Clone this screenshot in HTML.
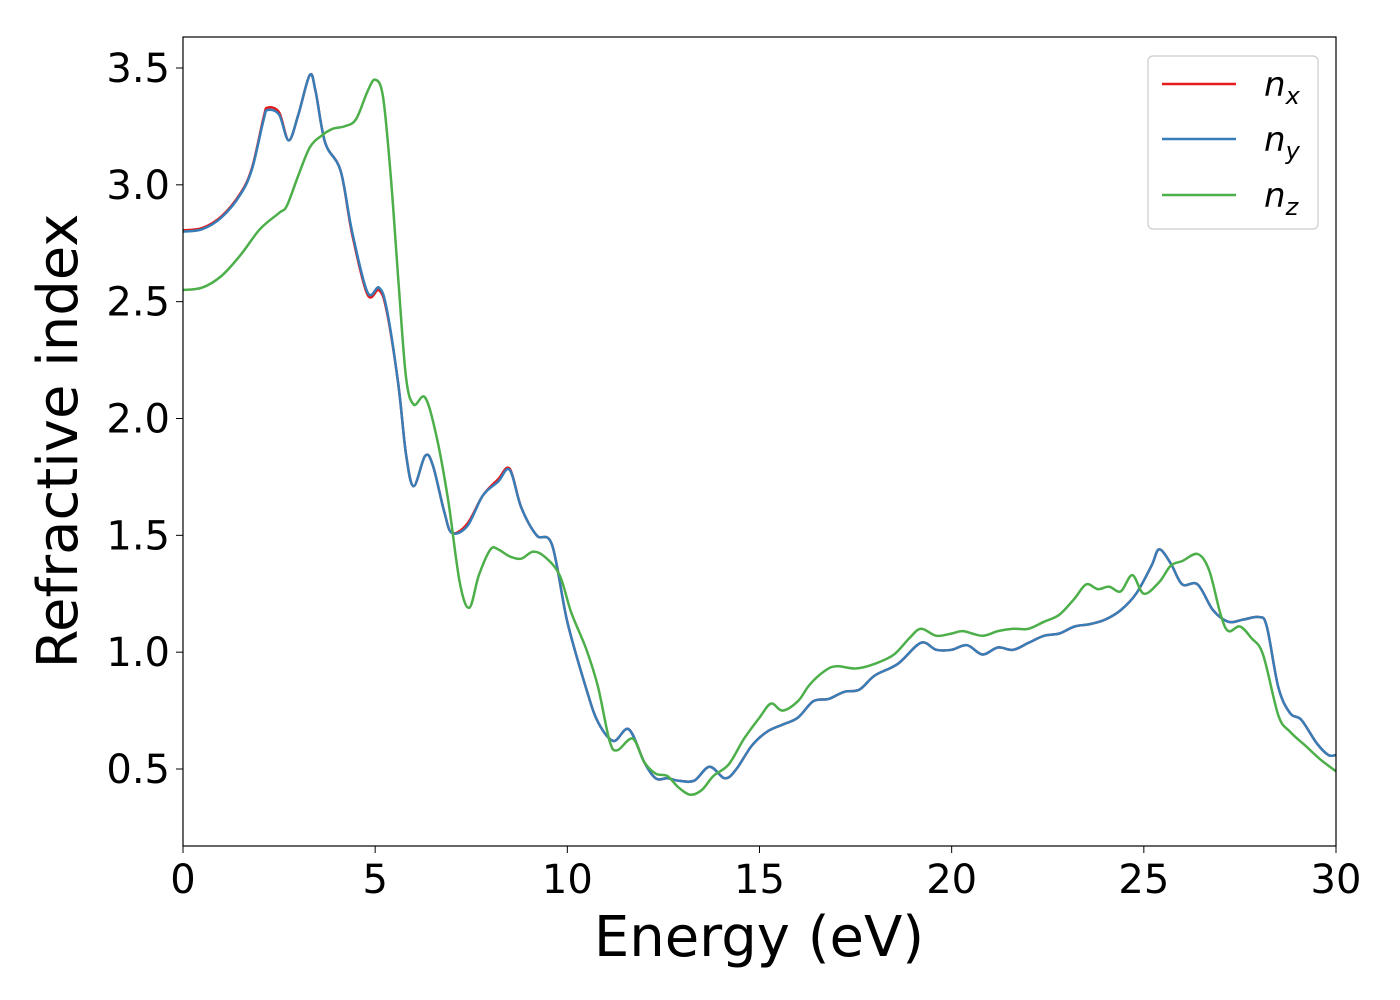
<!DOCTYPE html>
<html><head><meta charset="utf-8"><style>
body{margin:0;background:#fff;}
svg{display:block;font-family:"DejaVu Sans","Liberation Sans",sans-serif;}
</style></head><body>
<svg id="chart" width="1400" height="1000">
<rect x="0" y="0" width="1400" height="1000" fill="#fff"/>
<g id="plot"></g>
<rect x="183" y="37" width="1153" height="809" fill="none" stroke="#000" stroke-width="1.2"/>
<g id="axes"></g>
<text x="759" y="956" font-size="56" text-anchor="middle">Energy (eV)</text>
<text transform="translate(77,441) rotate(-90)" font-size="56" text-anchor="middle">Refractive index</text>
<g>
<rect x="1148" y="56" width="170" height="173" rx="5" fill="#fff" stroke="#ccc" stroke-width="1.2"/>
<line x1="1162" y1="84" x2="1236" y2="84" stroke="#e41a1c" stroke-width="2.5"/>
<text x="1264" y="96" font-size="34" font-style="italic">n<tspan font-size="24" dy="8">x</tspan></text>
<line x1="1162" y1="139" x2="1236" y2="139" stroke="#377eb8" stroke-width="2.5"/>
<text x="1264" y="151" font-size="34" font-style="italic">n<tspan font-size="24" dy="8">y</tspan></text>
<line x1="1162" y1="195" x2="1236" y2="195" stroke="#4daf4a" stroke-width="2.5"/>
<text x="1264" y="207" font-size="34" font-style="italic">n<tspan font-size="24" dy="8">z</tspan></text>
</g>
</svg>
<script>
const xTicks=[0,5,10,15,20,25,30];
const yTicks=[0.5,1.0,1.5,2.0,2.5,3.0,3.5];
const yTickLabels=["0.5","1.0","1.5","2.0","2.5","3.0","3.5"];
const energyY=[0,0.5,1,1.5,1.8,2.1,2.2,2.5,2.75,3.0,3.3,3.45,3.7,4.1,4.4,4.8,5.1,5.3,5.6,5.8,6.0,6.3,6.5,6.8,7.0,7.4,7.8,8.2,8.5,8.8,9.2,9.6,10.0,10.5,10.8,11.2,11.6,12.0,12.3,12.6,12.9,13.3,13.7,14.1,14.4,14.8,15.2,15.6,16.0,16.4,16.8,17.2,17.6,18.0,18.6,19.2,19.6,20.0,20.4,20.8,21.2,21.6,22.0,22.4,22.8,23.2,23.6,24.0,24.4,24.8,25.2,25.4,25.7,26.0,26.4,26.8,27.2,27.6,28.0,28.2,28.5,28.8,29.1,29.5,29.8,30];
const nyValues=[2.80,2.81,2.86,2.96,3.07,3.28,3.32,3.30,3.19,3.30,3.47,3.40,3.18,3.06,2.80,2.54,2.56,2.47,2.15,1.85,1.71,1.84,1.80,1.60,1.51,1.54,1.67,1.73,1.78,1.62,1.50,1.46,1.13,0.84,0.70,0.62,0.67,0.53,0.46,0.46,0.45,0.45,0.51,0.46,0.50,0.60,0.66,0.69,0.72,0.79,0.80,0.83,0.84,0.90,0.95,1.04,1.01,1.01,1.03,0.99,1.02,1.01,1.04,1.07,1.08,1.11,1.12,1.14,1.18,1.25,1.37,1.44,1.38,1.29,1.29,1.18,1.13,1.14,1.15,1.11,0.85,0.74,0.71,0.61,0.56,0.56];
const nxValues=[2.805,2.815,2.865,2.965,3.075,3.29,3.33,3.31,3.19,3.30,3.47,3.40,3.18,3.06,2.79,2.53,2.55,2.46,2.15,1.85,1.71,1.84,1.80,1.60,1.51,1.55,1.67,1.74,1.785,1.62,1.50,1.46,1.13,0.84,0.70,0.62,0.67,0.53,0.46,0.46,0.45,0.45,0.51,0.46,0.50,0.60,0.66,0.69,0.72,0.79,0.80,0.83,0.84,0.90,0.95,1.04,1.01,1.01,1.03,0.99,1.02,1.01,1.04,1.07,1.08,1.11,1.12,1.14,1.18,1.25,1.37,1.44,1.38,1.29,1.29,1.18,1.13,1.14,1.15,1.11,0.85,0.74,0.71,0.61,0.56,0.56];
const energyZ=[0,0.5,1.0,1.5,2.0,2.5,2.7,3.0,3.3,3.6,3.9,4.2,4.5,4.8,5.0,5.2,5.4,5.6,5.8,6.0,6.3,6.6,6.9,7.2,7.45,7.7,8.0,8.2,8.5,8.8,9.1,9.4,9.8,10.1,10.5,10.8,11.1,11.3,11.7,12.0,12.3,12.6,12.9,13.2,13.5,13.8,14.2,14.6,15.0,15.3,15.6,16.0,16.3,16.7,17.0,17.5,18.0,18.5,18.9,19.2,19.6,20.0,20.3,20.8,21.2,21.6,22.0,22.4,22.8,23.2,23.5,23.8,24.1,24.4,24.7,25.0,25.4,25.7,26.0,26.4,26.7,27.0,27.2,27.5,27.8,28.1,28.5,28.8,29.2,29.6,30];
const nzValues=[2.55,2.56,2.61,2.70,2.81,2.88,2.91,3.04,3.16,3.21,3.24,3.25,3.28,3.40,3.45,3.38,3.05,2.60,2.18,2.06,2.09,1.92,1.65,1.30,1.19,1.33,1.44,1.44,1.41,1.40,1.43,1.41,1.33,1.17,1.01,0.85,0.62,0.58,0.63,0.53,0.48,0.47,0.42,0.39,0.41,0.47,0.52,0.63,0.72,0.78,0.75,0.79,0.86,0.92,0.94,0.93,0.95,0.99,1.06,1.10,1.07,1.08,1.09,1.07,1.09,1.10,1.10,1.13,1.16,1.23,1.29,1.27,1.28,1.26,1.33,1.25,1.30,1.37,1.39,1.42,1.35,1.16,1.09,1.11,1.06,0.99,0.73,0.66,0.60,0.54,0.49];

const NS="http://www.w3.org/2000/svg";
function xs(v){return 183+v*(1153/30);}
function ys(v){return 769-(v-0.5)*233.67;}
function path(xa,ya){
  const p=xa.map((x,i)=>[xs(x),ys(ya[i])]);
  let d="M"+p[0][0].toFixed(1)+","+p[0][1].toFixed(1);
  for(let i=0;i<p.length-1;i++){
    const p0=p[Math.max(i-1,0)],p1=p[i],p2=p[i+1],p3=p[Math.min(i+2,p.length-1)];
    const c1=[p1[0]+(p2[0]-p0[0])/6,p1[1]+(p2[1]-p0[1])/6];
    const c2=[p2[0]-(p3[0]-p1[0])/6,p2[1]-(p3[1]-p1[1])/6];
    d+="C"+c1[0].toFixed(1)+","+c1[1].toFixed(1)+" "+c2[0].toFixed(1)+","+c2[1].toFixed(1)+" "+p2[0].toFixed(1)+","+p2[1].toFixed(1);
  }
  return d;
}
const plot=document.getElementById("plot");
function addLine(xa,ya,color,name){
  const el=document.createElementNS(NS,"path");
  el.setAttribute("d",path(xa,ya));
  el.setAttribute("fill","none");
  el.setAttribute("stroke",color);
  el.setAttribute("stroke-width","2.5");
  
  
  plot.appendChild(el);
}
addLine(energyY,nxValues,"#e41a1c","series-nx");
addLine(energyY,nyValues,"#377eb8","series-ny");
addLine(energyZ,nzValues,"#4daf4a","series-nz");

const axes=document.getElementById("axes");
xTicks.forEach(t=>{
  const l=document.createElementNS(NS,"line");
  l.setAttribute("x1",xs(t));l.setAttribute("x2",xs(t));
  l.setAttribute("y1",846);l.setAttribute("y2",853);
  l.setAttribute("stroke","#000");
  
  
  axes.appendChild(l);
  const tx=document.createElementNS(NS,"text");
  tx.setAttribute("x",xs(t));tx.setAttribute("y",893);
  tx.setAttribute("font-size","40");tx.setAttribute("text-anchor","middle");
  tx.textContent=String(t);
  
  
  axes.appendChild(tx);
});
yTicks.forEach((t,i)=>{
  const l=document.createElementNS(NS,"line");
  l.setAttribute("x1",176);l.setAttribute("x2",183);
  l.setAttribute("y1",ys(t));l.setAttribute("y2",ys(t));
  l.setAttribute("stroke","#000");
  
  
  axes.appendChild(l);
  const tx=document.createElementNS(NS,"text");
  tx.setAttribute("x",170);tx.setAttribute("y",ys(t)+14);
  tx.setAttribute("font-size","40");tx.setAttribute("text-anchor","end");
  tx.textContent=yTickLabels[i];
  
  
  axes.appendChild(tx);
});
</script>
</body></html>
